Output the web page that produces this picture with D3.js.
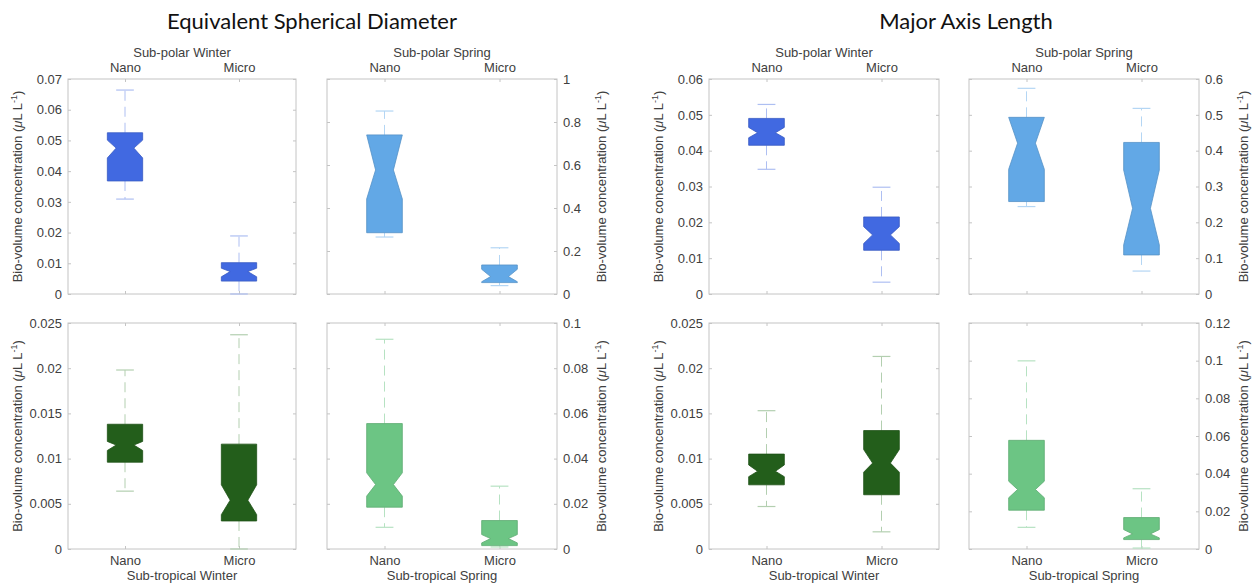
<!DOCTYPE html>
<html lang="en">
<head>
  <meta charset="utf-8">
  <title>Bio-volume boxplots</title>
  <script type="text/javascript" src="https://cdnjs.cloudflare.com/ajax/libs/d3/7.8.5/d3.min.js"></script>
  <style>
    body { margin: 0; background: #fff; }
    svg { display: block; }
    .lbl { font-family: "Liberation Sans", Arial, sans-serif; font-size: 13px; fill: #404040; }
    .title { font-family: Lato, "Open Sans", sans-serif; font-size: 22px; fill: #111; }
  </style>
</head>
<body>
  <script type="text/javascript">
    var width = 1252;
    var height = 586;

    var categories = ["Nano", "Micro"];
    var groupTitles = ["Equivalent Spherical Diameter", "Major Axis Length"];
    var panelTitles = ["Sub-polar Winter", "Sub-polar Spring", "Sub-tropical Winter", "Sub-tropical Spring"];

    // y-axis max and tick step per panel (SPW, SPS, STW, STS)
    var esdYMax = [0.07, 1, 0.025, 0.1];
    var esdYStep = [0.01, 0.2, 0.005, 0.02];
    var malYMax = [0.06, 0.6, 0.025, 0.12];
    var malYStep = [0.01, 0.1, 0.005, 0.02];

    // each box: [lower whisker, Q1, notch low, median, notch high, Q3, upper whisker]
    var esdSPW = [[0.0309, 0.0368, 0.0443, 0.0475, 0.0501, 0.0525, 0.0664],
                  [0, 0.0042, 0.0056, 0.0073, 0.0084, 0.0102, 0.0189]];
    var esdSPS = [[0.265, 0.285, 0.442, 0.577, 0.740, 0.740, 0.851],
                  [0.039, 0.053, 0.057, 0.081, 0.115, 0.135, 0.215]];
    var esdSTW = [[0.0064, 0.0096, 0.0109, 0.0115, 0.0119, 0.0138, 0.0198],
                  [0, 0.0031, 0.0038, 0.0054, 0.0071, 0.0116, 0.0237]];
    var esdSTS = [[0.0096, 0.0185, 0.0234, 0.0285, 0.0337, 0.0555, 0.0928],
                  [0.0009, 0.0015, 0.0027, 0.0046, 0.0064, 0.0126, 0.0278]];

    var malSPW = [[0.0348, 0.0415, 0.0436, 0.0450, 0.0465, 0.0490, 0.0529],
                  [0.0033, 0.0122, 0.0141, 0.0165, 0.0188, 0.0215, 0.0298]];
    var malSPS = [[0.244, 0.258, 0.348, 0.421, 0.493, 0.493, 0.574],
                  [0.064, 0.109, 0.137, 0.239, 0.346, 0.423, 0.518]];
    var malSTW = [[0.0047, 0.0071, 0.0080, 0.0086, 0.0093, 0.0105, 0.0153],
                  [0.0019, 0.0060, 0.0085, 0.0095, 0.0110, 0.0131, 0.0213]];
    var malSTS = [[0.0115, 0.0206, 0.0272, 0.0316, 0.0360, 0.0577, 0.0999],
                  [0.0005, 0.0050, 0.0059, 0.0080, 0.0103, 0.0167, 0.0320]];

    var esdData = [esdSPW, esdSPS, esdSTW, esdSTS];
    var malData = [malSPW, malSPS, malSTW, malSTS];

    var boxFill = ["#4169e1", "#62a8e6", "#235e1b", "#6cc584"];
    var whiskerCol = ["#aebff2", "#b4d6f4", "#b3cfb0", "#b6e2c2"];

    // panel boxes [x0, x1] per group column, [y0, y1] per row
    var colX = [[[68, 296], [327, 557]], [[709, 939], [969, 1199]]];
    var rowY = [[79, 294], [323, 549]];
    var groupCenter = [312, 966];

    var svg = d3.select("body").append("svg")
      .attr("width", width)
      .attr("height", height);

    function yLabel(g, x, y) {
      var t = g.append("text").attr("class", "lbl")
        .attr("transform", "translate(" + x + "," + y + ") rotate(-90)")
        .attr("text-anchor", "middle");
      t.append("tspan").text("Bio-volume concentration (");
      t.append("tspan").attr("font-style", "italic").text("\u03bc");
      t.append("tspan").text("L L");
      t.append("tspan").attr("font-size", "9px").attr("dy", -5).text("-1");
      t.append("tspan").attr("dy", 5).text(")");
    }

    function drawPanel(gi, pi, boxes, ymax, ystep) {
      var col = pi % 2, row = Math.floor(pi / 2);
      var x0 = colX[gi][col][0], x1 = colX[gi][col][1];
      var y0 = rowY[row][0], y1 = rowY[row][1];

      var x = d3.scalePoint().domain(categories).range([x0, x1]).padding(0.5);
      var y = d3.scaleLinear().domain([0, ymax]).range([y1, y0]);
      var ticks = d3.range(0, ymax + ystep / 2, ystep);
      var fmt = function (d) { return +d.toFixed(4) + ""; };

      var g = svg.append("g");

      g.append("rect").attr("x", x0).attr("y", y0)
        .attr("width", x1 - x0).attr("height", y1 - y0)
        .attr("fill", "none").attr("stroke", "#c4c4c4");

      var axL = col === 0 ? d3.axisLeft(y).tickFormat(fmt) : d3.axisLeft(y).tickFormat("");
      var axR = col === 1 ? d3.axisRight(y).tickFormat(fmt) : d3.axisRight(y).tickFormat("");
      g.append("g").attr("transform", "translate(" + x0 + ",0)")
        .call(axL.tickValues(ticks).tickSizeInner(-3).tickSizeOuter(0).tickPadding(6));
      g.append("g").attr("transform", "translate(" + x1 + ",0)")
        .call(axR.tickValues(ticks).tickSizeInner(-3).tickSizeOuter(0).tickPadding(6));

      var axT = row === 0 ? d3.axisTop(x) : d3.axisTop(x).tickFormat("");
      var axB = row === 1 ? d3.axisBottom(x) : d3.axisBottom(x).tickFormat("");
      g.append("g").attr("transform", "translate(0," + y0 + ")")
        .call(axT.tickSizeInner(-3).tickSizeOuter(0).tickPadding(7));
      g.append("g").attr("transform", "translate(0," + y1 + ")")
        .call(axB.tickSizeInner(-3).tickSizeOuter(0).tickPadding(7));

      g.selectAll(".domain").remove();
      g.selectAll(".tick line").attr("stroke", "#c4c4c4");
      g.selectAll(".tick text").attr("class", "lbl");

      // panel title
      g.append("text").attr("class", "lbl").attr("text-anchor", "middle")
        .attr("x", (x0 + x1) / 2)
        .attr("y", row === 0 ? 57 : 580)
        .text(panelTitles[pi]);

      if (col === 0) yLabel(g, x0 - 46, (y0 + y1) / 2);
      else yLabel(g, x1 + 49, (y0 + y1) / 2);

      var bw = x.step() * 0.31;
      var cw = bw * 0.5;
      var nw = bw * 0.25;

      var b = g.selectAll(".box").data(boxes).enter().append("g").attr("class", "box");

      // whiskers (dashed) and caps
      [[5, 6], [1, 0]].forEach(function (pr) {
        b.append("line")
          .attr("x1", function (d, i) { return x(categories[i]); })
          .attr("x2", function (d, i) { return x(categories[i]); })
          .attr("y1", function (d) { return y(d[pr[0]]); })
          .attr("y2", function (d) { return y(d[pr[1]]); })
          .attr("stroke", whiskerCol[pi]).attr("stroke-width", 1)
          .attr("stroke-dasharray", "10,6");
      });
      [0, 6].forEach(function (k) {
        b.append("line")
          .attr("x1", function (d, i) { return x(categories[i]) - cw / 2; })
          .attr("x2", function (d, i) { return x(categories[i]) + cw / 2; })
          .attr("y1", function (d) { return y(d[k]); })
          .attr("y2", function (d) { return y(d[k]); })
          .attr("stroke", whiskerCol[pi]).attr("stroke-width", 1.2);
      });

      // notched box
      b.append("path")
        .attr("d", function (d, i) {
          var cx = x(categories[i]);
          var l = cx - bw / 2, r = cx + bw / 2;
          var p = d3.path();
          p.moveTo(l, y(d[5]));
          p.lineTo(r, y(d[5]));
          p.lineTo(r, y(d[4]));
          p.lineTo(r - nw, y(d[3]));
          p.lineTo(r, y(d[2]));
          p.lineTo(r, y(d[1]));
          p.lineTo(l, y(d[1]));
          p.lineTo(l, y(d[2]));
          p.lineTo(l + nw, y(d[3]));
          p.lineTo(l, y(d[4]));
          p.closePath();
          return p.toString();
        })
        .attr("fill", boxFill[pi])
        .attr("stroke", d3.color(boxFill[pi]).darker(0.4))
        .attr("stroke-width", 0.8);
    }

    groupTitles.forEach(function (t, gi) {
      svg.append("text").attr("class", "title").attr("text-anchor", "middle")
        .attr("x", groupCenter[gi]).attr("y", 29).text(t);
      var data = gi === 0 ? esdData : malData;
      var ymax = gi === 0 ? esdYMax : malYMax;
      var ystep = gi === 0 ? esdYStep : malYStep;
      data.forEach(function (boxes, pi) {
        drawPanel(gi, pi, boxes, ymax[pi], ystep[pi]);
      });
    });
  </script>
</body>
</html>
